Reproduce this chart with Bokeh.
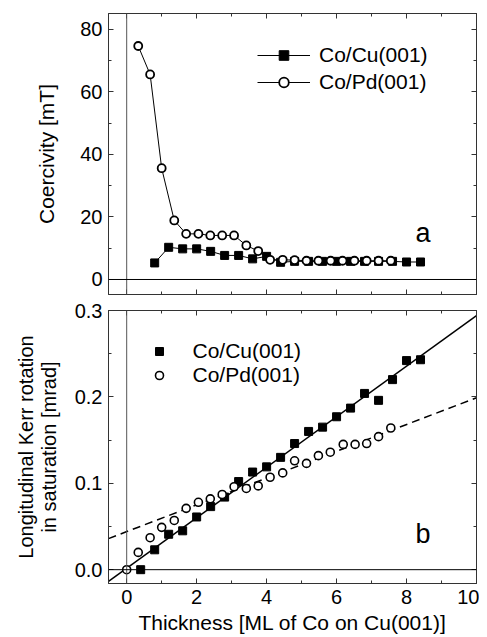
import numpy as np
from bokeh.plotting import figure
from bokeh.models import (Range1d, FixedTicker, LinearAxis, Span, Label, Legend,
                          LegendItem, PrintfTickFormatter, CustomLabelingPolicy)
from bokeh.layouts import column
from bokeh.embed import file_html
from bokeh.resources import INLINE

# ---------------- data ----------------
# panel a: coercivity [mT]
cu_x_a = [0.8, 1.2, 1.6, 2.0, 2.4, 2.8, 3.2, 3.6, 4.0, 4.4, 4.8, 5.2, 5.6, 6.0,
          6.4, 6.8, 7.2, 7.6, 8.0, 8.4]
cu_hc = [5.3, 10.3, 9.8, 9.8, 9.0, 7.7, 7.7, 6.6, 7.4, 5.5, 5.8, 5.8, 5.8, 5.8,
         5.8, 5.8, 5.8, 5.8, 5.6, 5.6]
pd_x_a = [0.33, 0.67, 1.0, 1.36, 1.70, 2.05, 2.39, 2.73, 3.07, 3.42, 3.76, 4.10,
          4.46, 4.80, 5.14, 5.48, 5.83, 6.17, 6.51, 6.86, 7.20, 7.55]
pd_hc = [74.7, 65.6, 35.6, 18.9, 14.6, 14.6, 14.1, 14.1, 14.1, 10.9, 9.1, 6.3,
         6.3, 6.2, 6.0, 6.0, 6.0, 6.0, 6.0, 6.0, 6.0, 6.0]

# panel b: Kerr rotation [mrad]
cu_x_b = [0.4, 0.8, 1.2, 1.6, 2.0, 2.4, 2.8, 3.2, 3.6, 4.0, 4.4, 4.8, 5.2, 5.6,
          6.0, 6.4, 6.8, 7.2, 7.6, 8.0, 8.4]
cu_kerr = [0.0, 0.023, 0.041, 0.045, 0.061, 0.073, 0.084, 0.102, 0.113, 0.119,
           0.130, 0.146, 0.160, 0.165, 0.177, 0.187, 0.204, 0.196, 0.220, 0.242,
           0.243]
pd_x_b = [0.0, 0.33, 0.67, 1.0, 1.36, 1.70, 2.05, 2.39, 2.73, 3.07, 3.42, 3.76,
          4.10, 4.46, 4.80, 5.14, 5.48, 5.82, 6.19, 6.53, 6.86, 7.20, 7.55]
pd_kerr = [0.0, 0.020, 0.037, 0.049, 0.057, 0.071, 0.078, 0.082, 0.087, 0.096,
           0.094, 0.097, 0.107, 0.112, 0.126, 0.123, 0.132, 0.136, 0.145, 0.145,
           0.146, 0.154, 0.164]

# linear fit lines (end points)
fit_x = [-0.52, 10.0]
fit_cu = [-0.0136, 0.294]
fit_pd = [0.036, 0.199]

x_major = [0, 2, 4, 6, 8, 10]
x_minor = [-1, 1, 3, 5, 7, 9]
ya_major = [0, 20, 40, 60, 80]
ya_minor = [-10, 10, 30, 50, 70, 90]
yb_major = [0.0, 0.1, 0.2, 0.3]
yb_minor = [-0.05, 0.05, 0.15, 0.25]

FONT = "Liberation Sans"
AX = "#333333"
NO_LABELS = "for (const i of Array.from(indices)) { indices.unset(i) }\nreturn indices"


def style_axis(ax, ticker, labels=True):
    ax.ticker = ticker
    ax.axis_line_color = AX
    ax.major_tick_line_color = AX
    ax.minor_tick_line_color = AX
    ax.major_tick_in = 5
    ax.major_tick_out = 0
    ax.minor_tick_in = 3
    ax.minor_tick_out = 0
    ax.major_label_text_font = FONT
    ax.major_label_text_color = "black"
    ax.major_label_text_font_size = "20px"
    ax.axis_label_text_font = FONT
    ax.axis_label_text_font_style = "normal"
    ax.axis_label_text_color = "black"
    ax.axis_label_text_font_size = "21px"
    if not labels:
        ax.major_label_policy = CustomLabelingPolicy(code=NO_LABELS)
        ax.major_label_text_font_size = "0px"
        ax.major_label_standoff = 0


def make_fig(height, yr, bt, bb):
    p = figure(width=479, height=height, output_backend="svg",
               toolbar_location=None, x_range=Range1d(-0.52, 10.0),
               y_range=yr, min_border_left=108, min_border_right=3,
               min_border_top=bt, min_border_bottom=bb)
    p.xgrid.visible = False
    p.ygrid.visible = False
    p.outline_line_color = AX
    p.background_fill_color = "white"
    p.add_layout(Span(location=0, dimension="height", line_color="#555555",
                      line_width=1))
    p.add_layout(Span(location=0, dimension="width", line_color="black",
                      line_width=1))
    return p


def legend_kw():
    return dict(padding=0, margin=0, border_line_color=None,
                background_fill_alpha=0, label_text_font=FONT,
                label_text_font_size="21px", label_text_color="black")


# ---------------- panel a ----------------
pa = make_fig(296, Range1d(-4.8, 85.1), 13, 2)
style_axis(pa.xaxis[0], FixedTicker(ticks=x_major, minor_ticks=x_minor), labels=False)
style_axis(pa.yaxis[0], FixedTicker(ticks=ya_major, minor_ticks=ya_minor))
pa.yaxis[0].major_label_standoff = 6
pa.yaxis[0].axis_label = "Coercivity [mT]"
pa.yaxis[0].axis_label_standoff = 19
top_a = LinearAxis()
style_axis(top_a, FixedTicker(ticks=x_major, minor_ticks=x_minor), labels=False)
pa.add_layout(top_a, "above")
right_a = LinearAxis()
style_axis(right_a, FixedTicker(ticks=ya_major, minor_ticks=ya_minor), labels=False)
pa.add_layout(right_a, "right")

l_cu = pa.line(cu_x_a, cu_hc, line_color="black", line_width=1)
l_pd = pa.line(pd_x_a, pd_hc, line_color="black", line_width=1)
s_cu = pa.scatter(cu_x_a, cu_hc, marker="square", size=8, fill_color="black",
                  line_color="black")
s_pd = pa.scatter(pd_x_a, pd_hc, marker="circle", size=8, fill_color="white",
                  line_color="black", line_width=1.8)

leg_a = Legend(items=[LegendItem(label="Co/Cu(001)", renderers=[l_cu, s_cu]),
                      LegendItem(label="Co/Pd(001)", renderers=[l_pd, s_pd])],
               location=(149, 200), glyph_width=53, glyph_height=24,
               label_height=24, spacing=3, label_standoff=9, **legend_kw())
pa.add_layout(leg_a)
pa.add_layout(Label(x=8.47, y=15.0, text="a", text_align="center",
                    text_baseline="alphabetic", text_font=FONT,
                    text_font_size="27px", text_color="black"))

# ---------------- panel b ----------------
pb = make_fig(341, Range1d(-0.016, 0.3), 14, 54)
style_axis(pb.xaxis[0], FixedTicker(ticks=x_major, minor_ticks=x_minor))
pb.xaxis[0].major_label_standoff = 6
pb.xaxis[0].axis_label = "Thickness [ML of Co on Cu(001)]"
pb.xaxis[0].axis_label_standoff = 4
style_axis(pb.yaxis[0], FixedTicker(ticks=yb_major, minor_ticks=yb_minor))
pb.yaxis[0].major_label_standoff = 6
pb.yaxis[0].formatter = PrintfTickFormatter(format="%.1f")
pb.yaxis[0].axis_label = "Longitudinal Kerr rotation\nin saturation [mrad]"
pb.yaxis[0].axis_label_text_font_size = "20px"
pb.yaxis[0].axis_label_text_line_height = 1.05
pb.yaxis[0].axis_label_standoff = 12
top_b = LinearAxis()
style_axis(top_b, FixedTicker(ticks=x_major, minor_ticks=x_minor), labels=False)
pb.add_layout(top_b, "above")
right_b = LinearAxis()
style_axis(right_b, FixedTicker(ticks=yb_major, minor_ticks=yb_minor), labels=False)
pb.add_layout(right_b, "right")

pb.line(fit_x, fit_cu, line_color="black", line_width=1.5)
pb.line(fit_x, fit_pd, line_color="black", line_width=1.5, line_dash="8 5")
sb_cu = pb.scatter(cu_x_b, cu_kerr, marker="square", size=8, fill_color="black",
                   line_color="black")
sb_pd = pb.scatter(pd_x_b, pd_kerr, marker="circle", size=8, fill_color="white",
                   line_color="black", line_width=1.6)

leg_b = Legend(items=[LegendItem(label="Co/Cu(001)", renderers=[sb_cu]),
                      LegendItem(label="Co/Pd(001)", renderers=[sb_pd])],
               location=(40.5, 196), glyph_width=20, glyph_height=20,
               label_height=20, spacing=0, label_standoff=24, **legend_kw())
pb.add_layout(leg_b)
pb.add_layout(Label(x=8.47, y=0.041, text="b", text_align="center",
                    text_baseline="alphabetic", text_font=FONT,
                    text_font_size="27px", text_color="black"))

layout = column(pa, pb, spacing=0)
open("out.html", "w").write(file_html(layout, INLINE))
